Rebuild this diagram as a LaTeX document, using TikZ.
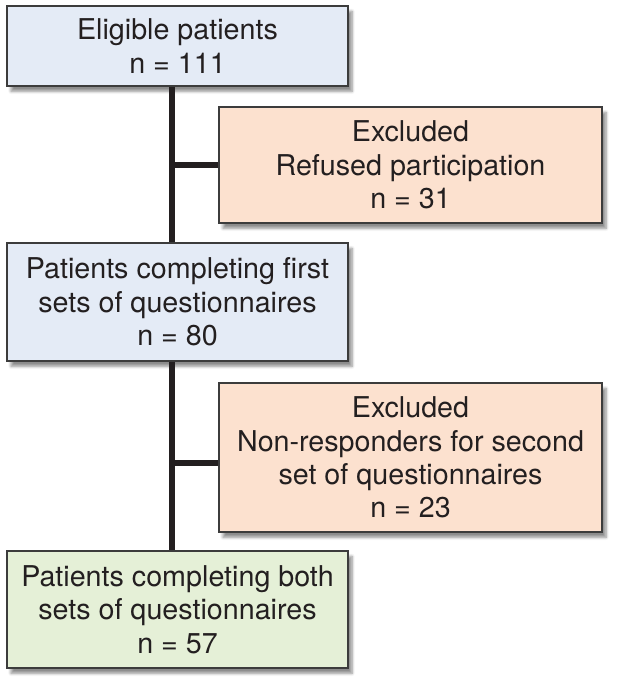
\documentclass[tikz,border=0pt]{standalone}
\usepackage{fontspec}
\setmainfont{TeX Gyre Heros}
\usepackage{xcolor}
\usetikzlibrary{positioning,shadows.blur}

\definecolor{boxblue}{RGB}{228,235,246}
\definecolor{boxpeach}{RGB}{252,225,207}
\definecolor{boxgreen}{RGB}{229,240,215}
\definecolor{edgegray}{RGB}{60,60,60}
\definecolor{inkgray}{RGB}{35,31,32}

\begin{document}
\begin{tikzpicture}[
    x=0.75pt, y=0.75pt,
    base/.style={
      draw=edgegray, line width=0.8pt, text=inkgray,
      align=center, font=\fontsize{21.5}{25}\selectfont,
      inner sep=0pt,
      blur shadow={shadow xshift=3pt, shadow yshift=-4pt, shadow opacity=45, shadow blur steps=6}
    },
    stage/.style={
      base, fill=boxblue, minimum width=255.75pt
    },
    excl/.style={
      base, fill=boxpeach, minimum width=287.25pt
    },
    final/.style={
      base, fill=boxgreen, minimum width=255.75pt
    },
    link/.style={line width=4.5pt, inkgray}
  ]

    \useasboundingbox (0,0) rectangle (625,-692);

    % Main stages (left column)
    \node[stage, minimum height=60pt]   (elig)  at (177.5, -46)  {Eligible patients\\n = 111};
    \node[stage, minimum height=88.5pt] (first) at (177.5, -302) {Patients completing first\\sets of questionnaires\\n = 80};
    \node[final, minimum height=87.75pt] (both) at (177.5, -609.5) {Patients completing both\\sets of questionnaires\\n = 57};

    % Exclusions (right column)
    \node[excl, minimum height=87pt]     (refused) at (410.5, -165)   {Excluded\\Refused participation\\n = 31};
    \node[excl, minimum height=111.75pt] (nonresp) at (410.5, -457.5) {Excluded\\Non-responders for second\\set of questionnaires\\n = 23};

    % Trunk line
    \coordinate (trunk) at (172, 0);

    % Vertical connectors
    \draw[link] (elig.south -| trunk)  -- (first.north -| trunk);
    \draw[link] (first.south -| trunk) -- (both.north -| trunk);

    % Branches to exclusions
    \draw[link] (refused.west -| trunk) -- (refused.west);
    \draw[link] ([yshift=-4pt]nonresp.west -| trunk) -- ([yshift=-4pt]nonresp.west);

  \end{tikzpicture}
\end{document}
